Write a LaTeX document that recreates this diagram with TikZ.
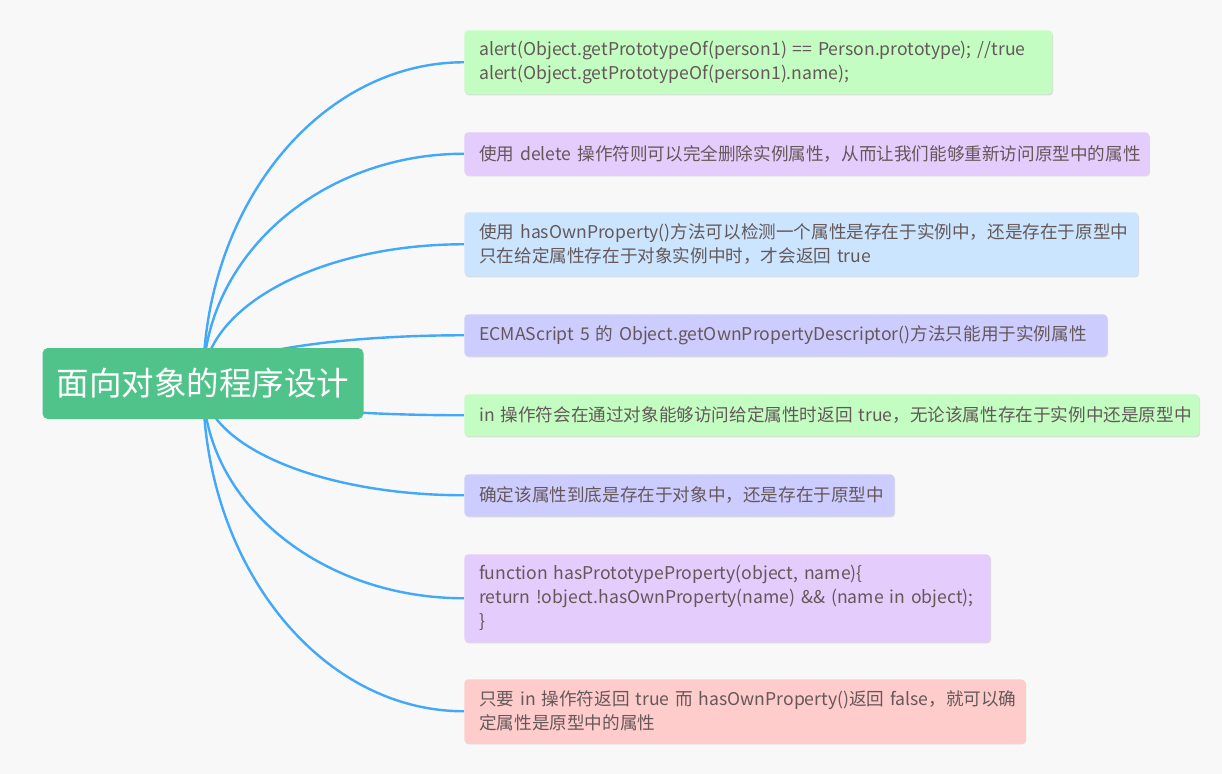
\documentclass[tikz,border=0pt]{standalone}
\usepackage{fontspec}
\setmainfont[WordSpace=0.75]{Noto Sans CJK SC}
\usetikzlibrary{calc,shadows}
\pgfdeclarelayer{bgl}
\pgfdeclarelayer{lines}
\pgfsetlayers{bgl,lines,main}
\definecolor{bgc}{RGB}{248,248,248}
\definecolor{txt}{RGB}{100,88,88}
\definecolor{rootc}{RGB}{80,195,139}
\definecolor{conc}{RGB}{66,168,250}
\definecolor{cgreen}{RGB}{195,253,193}
\definecolor{cpurple}{RGB}{228,204,253}
\definecolor{cblue}{RGB}{204,229,255}
\definecolor{clav}{RGB}{204,204,255}
\definecolor{cpink}{RGB}{255,204,204}
\begin{document}
\begin{tikzpicture}[x=0.75pt,y=-0.75pt,
  box/.style={rounded corners=3pt, inner xsep=11.25pt, inner ysep=0pt,
    anchor=north west, align=left, text=txt,
    font=\fontsize{13.2pt}{18pt}\selectfont,
    drop shadow={shadow xshift=0.6pt, shadow yshift=-0.9pt, fill=black!14, opacity=1}},
  rootbox/.style={rounded corners=4pt, fill=rootc, text=white,
    minimum width=240.75pt, minimum height=53.25pt, inner sep=0pt,
    font=\fontsize{24.4pt}{28pt}\selectfont},
  conn/.style={draw=conc, line width=1.8pt}
]
\begin{pgfonlayer}{bgl}
\fill[bgc] (0,0) rectangle (1222,774);
\end{pgfonlayer}
\useasboundingbox (0,0) rectangle (1222,774);

\node[rootbox] (root) at (203,383.5) {面向对象的程序设计};

\node[box, fill=cgreen, text width=418.5pt, minimum height=48pt] (b1) at (464,30)
  {\mbox{alert(Object.getPrototypeOf(person1) == Person.prototype); //true}\\
   \mbox{alert(Object.getPrototypeOf(person1).name);}};
\node[box, fill=cpurple, text width=491.25pt, minimum height=32.25pt] (b2) at (464,132)
  {\mbox{使用 delete 操作符则可以完全删除实例属性，从而让我们能够重新访问原型中的属性}};
\node[box, fill=cblue, text width=483pt, minimum height=48pt] (b3) at (464,212)
  {\mbox{使用 hasOwnProperty()方法可以检测一个属性是存在于实例中，还是存在于原型中}\\
   \mbox{只在给定属性存在于对象实例中时，才会返回 true}};
\node[box, fill=clav, text width=459.75pt, minimum height=31.5pt] (b4) at (464,314)
  {\mbox{ECMAScript 5 的 Object.getOwnPropertyDescriptor()方法只能用于实例属性}};
\node[box, fill=cgreen, text width=528.75pt, minimum height=31.5pt] (b5) at (464,394)
  {\mbox{in 操作符会在通过对象能够访问给定属性时返回 true，无论该属性存在于实例中还是原型中}};
\node[box, fill=clav, text width=300pt, minimum height=31.5pt] (b6) at (464,474)
  {\mbox{确定该属性到底是存在于对象中，还是存在于原型中}};
\node[box, fill=cpurple, text width=372pt, minimum height=66pt] (b7) at (464,554)
  {\mbox{function hasPrototypeProperty(object, name)\{}\\
   \mbox{return !object.hasOwnProperty(name) \&\& (name in object);}\\
   \}};
\node[box, fill=cpink, text width=398.25pt, minimum height=48pt] (b8) at (464,679)
  {\mbox{只要 in 操作符返回 true 而 hasOwnProperty()返回 false，就可以确}\\
   \mbox{定属性是原型中的属性}};

\begin{pgfonlayer}{lines}
\foreach \b in {b1,b2,b3,b4,b5,b6,b7,b8}
  \draw[conn] (root.center)
    .. controls ($(root.center)!0.552!(root.center |- \b.west)$)
    and ($(\b.west)!0.552!(root.center |- \b.west)$) .. (\b.west);
\end{pgfonlayer}
\end{tikzpicture}
\end{document}
